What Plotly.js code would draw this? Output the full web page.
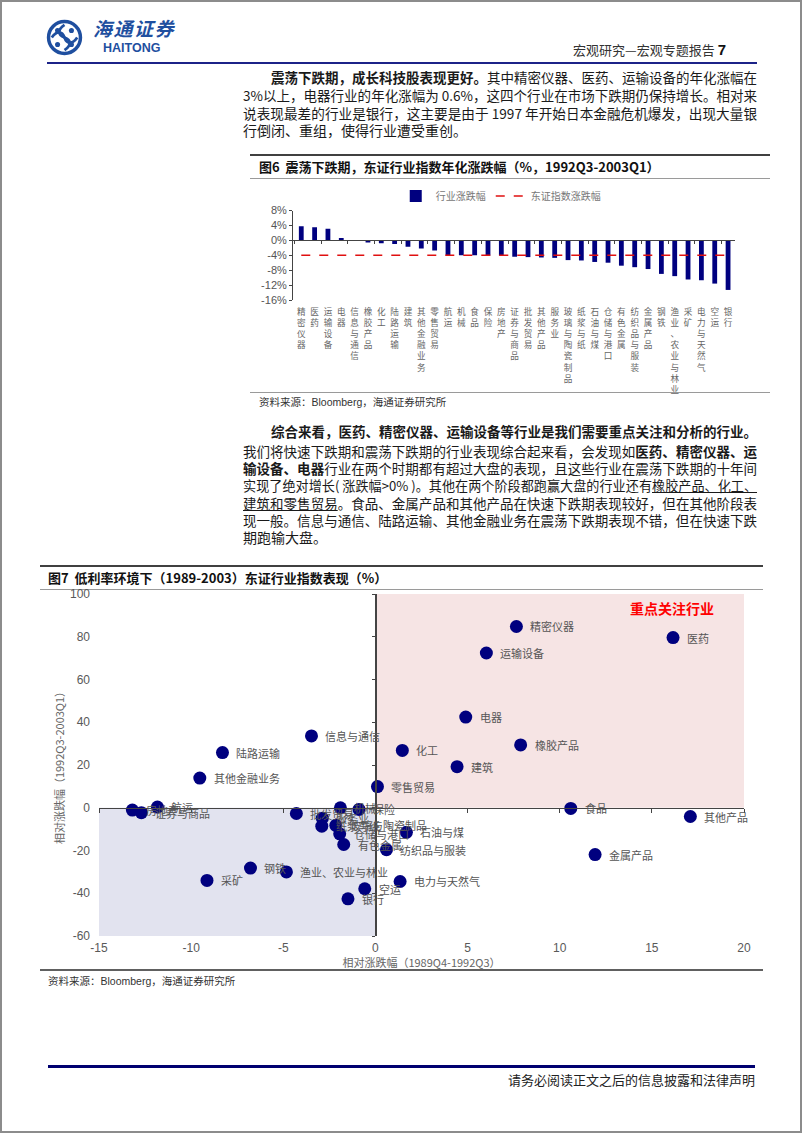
<!DOCTYPE html>
<html><head><meta charset="utf-8">
<script src="https://cdn.plot.ly/plotly-3.0.1.min.js"></script>
<style>
html,body{margin:0;padding:0;background:#fff;}
#page{position:relative;width:802px;height:1133px;overflow:hidden;font-family:"Noto Sans CJK SC","Noto Sans",sans-serif;color:#1a1a1a;}
#frame{position:absolute;left:0;top:0;width:802px;height:1133px;box-sizing:border-box;border:2px solid #8c8c8c;pointer-events:none;z-index:10;}
.abs{position:absolute;}
.ln{position:absolute;font-size:14px;height:18px;line-height:18px;text-align:justify;text-align-last:justify;white-space:nowrap;overflow:visible;}
.b{font-weight:bold;}
.u{text-decoration:underline;}
.hr{position:absolute;}
</style></head>
<body><div id="page">
<div id="frame"></div>
<!-- header -->
<svg class="abs" style="left:46px;top:19px" width="37" height="37" viewBox="0 0 32 32">
 <circle cx="16" cy="16" r="13.8" fill="none" stroke="#1f4f9f" stroke-width="3"/>
 <path d="M16 5 C10 9,10 14,16 16 C22 18,22 23,16 27" fill="none" stroke="#1f4f9f" stroke-width="2.4"/>
 <path d="M5 16 C9 10,14 10,16 16 C18 22,23 22,27 16" fill="none" stroke="#1f4f9f" stroke-width="2.4"/>
 <circle cx="10" cy="10" r="2.2" fill="#1f4f9f"/><circle cx="22" cy="22" r="2.2" fill="#1f4f9f"/>
 <circle cx="22" cy="10" r="2.2" fill="#1f4f9f"/><circle cx="10" cy="22" r="2.2" fill="#1f4f9f"/>
</svg>
<div class="abs" style="left:93px;top:17px;font-size:19px;font-weight:bold;font-style:italic;color:#1f4f9f;letter-spacing:1.5px;line-height:22px;">海通证券</div>
<div class="abs" style="left:103px;top:41px;font-family:'Liberation Sans',Arial,sans-serif;font-size:12.5px;font-weight:bold;color:#1f4f9f;line-height:14px;">HAITONG</div>
<div class="abs" style="right:76px;top:41px;font-size:13px;color:#333;line-height:18px;">宏观研究—宏观专题报告 <span style="font-family:'Liberation Sans',Arial;font-weight:bold;font-size:15px;color:#111;">7</span></div>
<div class="hr" style="left:47px;top:62px;width:710px;height:2px;background:#1c2388;"></div>

<!-- paragraph 1 -->
<div class="ln fit" style="left:271px;top:68px;width:486px;"><span class="b">震荡下跌期，成长科技股表现更好。</span>其中精密仪器、医药、运输设备的年化涨幅在</div>
<div class="ln fit" style="left:243px;top:86px;width:514px;">3%以上，电器行业的年化涨幅为 0.6%，这四个行业在市场下跌期仍保持增长。相对来</div>
<div class="ln fit" style="left:243px;top:104px;width:514px;">说表现最差的行业是银行，这主要是由于 1997 年开始日本金融危机爆发，出现大量银</div>
<div class="ln" style="left:243px;top:121px;text-align:left;text-align-last:left;">行倒闭、重组，使得行业遭受重创。</div>

<!-- chart 6 header -->
<div class="hr" style="left:250px;top:154px;width:520px;height:2px;background:#404040;"></div>
<div class="abs" style="left:259px;top:157px;font-size:13px;font-weight:bold;line-height:19px;color:#111;">图6&nbsp; 震荡下跌期，东证行业指数年化涨跌幅（%，1992Q3-2003Q1）</div>
<div class="hr" style="left:250px;top:178px;width:520px;height:1px;background:#9a9a9a;"></div>
<div id="c6" class="abs" style="left:250px;top:180px;width:520px;height:214px;"></div>
<div class="hr" style="left:250px;top:392px;width:520px;height:1px;background:#9a9a9a;"></div>
<div class="abs" style="left:259px;top:394px;font-size:10.5px;line-height:16px;color:#333;">资料来源：<span style="font-family:'Liberation Sans',Arial;">Bloomberg</span>，海通证券研究所</div>

<!-- paragraph 2 -->
<div class="ln b fit" style="left:271px;top:422px;width:486px;">综合来看，医药、精密仪器、运输设备等行业是我们需要重点关注和分析的行业。</div>
<div class="ln fit" style="left:243px;top:442px;width:514px;">我们将快速下跌期和震荡下跌期的行业表现综合起来看，会发现如<span class="b">医药、精密仪器、运</span></div>
<div class="ln fit" style="left:243px;top:459px;width:514px;"><span class="b">输设备、电器</span>行业在两个时期都有超过大盘的表现，且这些行业在震荡下跌期的十年间</div>
<div class="ln fit" style="left:243px;top:477px;width:514px;">实现了绝对增长( 涨跌幅&gt;0% )。其他在两个阶段都跑赢大盘的行业还有<span class="u">橡胶产品、化工、</span></div>
<div class="ln fit" style="left:243px;top:494px;width:514px;"><span class="u">建筑和零售贸易</span>。食品、金属产品和其他产品在快速下跌期表现较好，但在其他阶段表</div>
<div class="ln fit" style="left:243px;top:511px;width:514px;">现一般。信息与通信、陆路运输、其他金融业务在震荡下跌期表现不错，但在快速下跌</div>
<div class="ln" style="left:243px;top:528px;text-align:left;text-align-last:left;">期跑输大盘。</div>

<!-- chart 7 header -->
<div class="hr" style="left:40px;top:565px;width:723px;height:2px;background:#404040;"></div>
<div class="abs" style="left:48px;top:568px;font-size:13px;font-weight:bold;line-height:19px;color:#111;">图7&nbsp; 低利率环境下（1989-2003）东证行业指数表现（%）</div>
<div class="hr" style="left:40px;top:589px;width:723px;height:1px;background:#9a9a9a;"></div>
<div id="c7" class="abs" style="left:40px;top:578px;width:723px;height:392px;"></div>
<div class="hr" style="left:40px;top:969px;width:723px;height:2px;background:#606060;"></div>
<div class="abs" style="left:48px;top:973px;font-size:10.5px;line-height:16px;color:#333;">资料来源：<span style="font-family:'Liberation Sans',Arial;">Bloomberg</span>，海通证券研究所</div>

<!-- footer -->
<div class="hr" style="left:48px;top:1065px;width:707px;height:3px;background:#000070;"></div>
<div class="abs" style="right:47px;top:1071px;font-size:13px;line-height:18px;color:#222;">请务必阅读正文之后的信息披露和法律声明</div>
</div>

<script>
// shrink any justified text line that would overflow its box
document.querySelectorAll('.ln.fit').forEach(el => {
  let fs = 14;
  while (el.scrollWidth > el.clientWidth + 0.5 && fs > 11) { fs -= 0.1; el.style.fontSize = fs + 'px'; }
});

// ---------- Figure 6 data ----------
const cats6 = ['精密仪器','医药','运输设备','电器','信息与通信','橡胶产品','化工','陆路运输','建筑','其他金融业务','零售贸易','航运','机械','食品','保险','房地产','证券与商品','批发贸易','其他产品','服务业','玻璃与陶瓷制品','纸浆与纸','石油与煤','仓储与港口','有色金属','纺织品与服装','金属产品','钢铁','渔业、农业与林业','采矿','电力与天然气','空运','银行'];
const vals6 = [3.8,3.5,3.1,0.6,-0.1,-0.6,-0.8,-1.0,-1.7,-2.2,-2.7,-4.0,-4.0,-4.0,-4.1,-4.1,-4.4,-4.5,-4.6,-4.7,-5.3,-5.4,-5.8,-6.0,-6.8,-7.2,-7.7,-9.0,-9.6,-10.5,-10.7,-11.6,-13.3];
const indexValue6 = -4.0;
const yTicks6 = [8,4,0,-4,-8,-12,-16];
const yTickText6 = ['8%','4%','0%','-4%','-8%','-12%','-16%'];
const seriesNames6 = ['行业涨跌幅','东证指数涨跌幅'];

// ---------- Figure 7 data ----------
const names7 = ['精密仪器','医药','运输设备','电器','橡胶产品','化工','建筑','零售贸易','食品','其他产品','金属产品','石油与煤','纺织品与服装','电力与天然气','信息与通信','陆路运输','其他金融业务','采矿','钢铁','渔业、农业与林业','银行','空运','房地产','证券与商品','航运','批发贸易','服务业','纸浆与纸','机械','保险','玻璃与陶瓷制品','仓储与港口','有色金属'];
const relFast7 = [7.65,16.15,6.02,4.90,7.88,1.46,4.43,0.11,10.6,17.09,11.92,1.68,0.60,1.34,-3.47,-8.30,-9.53,-9.14,-6.78,-4.83,-1.49,-0.58,-13.19,-12.70,-11.83,-4.29,-2.88,-2.91,-1.90,-0.89,-2.15,-1.94,-1.72];
const relSlow7 = [84.8,79.6,72.4,42.4,29.4,26.8,19.2,9.9,-0.3,-4.1,-21.9,-11.5,-19.6,-34.5,33.6,25.8,13.9,-34.0,-28.2,-30.0,-42.6,-37.9,-1.1,-2.3,0.3,-2.7,-4.9,-8.6,0.0,-0.8,-8.2,-12.2,-17.2];
const xTicks7 = [-15,-10,-5,0,5,10,15,20];
const xTickText7 = ['-15','-10','-5','0','5','10','15','20'];
const yTicks7 = [-60,-40,-20,0,20,40,60,80,100];
const yTickText7 = ['-60','-40','-20','0','20','40','60','80','100'];
const focusLabel7 = '重点关注行业';

const CJK = '"Noto Sans CJK SC", sans-serif';
const NUM = '"Liberation Sans", Arial, sans-serif';
const vert = s => s.split('').join('<br>');

// ---------- Figure 6 ----------
const xr6 = [-0.62, 32.52];
Plotly.newPlot('c6', [
  {type:'bar', x:cats6, y:vals6, name:seriesNames6[0], marker:{color:'#00007f'}, xaxis:'x', yaxis:'y'},
  {type:'scatter', mode:'lines', x:[cats6[0], cats6[cats6.length-1]], y:[indexValue6, indexValue6],
   name:seriesNames6[1], line:{color:'#e01010', dash:'dash', width:1.5}, xaxis:'x2', yaxis:'y'}
], {
  width:520, height:214, margin:{l:43, r:35, t:28, b:94},
  paper_bgcolor:'rgba(0,0,0,0)', plot_bgcolor:'rgba(0,0,0,0)',
  bargap:0.64, showlegend:true,
  legend:{orientation:'h', x:0.47, xanchor:'center', yref:'container', y:1-16/214, yanchor:'middle',
          font:{size:10, color:'#777', family:CJK}, traceorder:'normal', itemwidth:30},
  xaxis:{type:'category', categoryorder:'array', categoryarray:cats6, range:xr6,
         tickvals:cats6, ticktext:cats6.map(vert), tickangle:0, ticks:'', showline:false,
         showgrid:false, zeroline:false, tickfont:{size:8.6, color:'#666', family:CJK}, ticklabelstandoff:5,
         automargin:false},
  xaxis2:{type:'category', overlaying:'x', anchor:'free', position:16/24, categoryorder:'array',
          categoryarray:cats6, range:xr6, showline:true, linecolor:'#444', linewidth:1,
          ticks:'outside', ticklen:3, tickcolor:'#444', tickson:'boundaries', showticklabels:false,
          showgrid:false, zeroline:false},
  yaxis:{range:[-16,8], tickvals:yTicks6, ticktext:yTickText6, showline:true, linecolor:'#444', linewidth:1,
         ticks:'outside', ticklen:3, tickcolor:'#444', showgrid:false, zeroline:false,
         tickfont:{size:11, color:'#555', family:NUM}, automargin:false}
}, {staticPlot:true, displayModeBar:false});

// ---------- Figure 7 ----------
const labelAnn = names7.map((n,i) => ({x:relFast7[i], y:relSlow7[i], xref:'x', yref:'y', text:n,
  showarrow:false, xanchor:'left', yanchor:'middle', xshift:12, font:{size:11, color:'#555', family:CJK}}));
labelAnn.push({x:16.1, y:93.5, xref:'x', yref:'y', text:'<b>'+focusLabel7+'</b>', showarrow:false,
  xanchor:'center', yanchor:'middle', font:{size:14, color:'#ff0000', family:CJK}});

Plotly.newPlot('c7', [
  {type:'scatter', mode:'markers', x:relFast7, y:relSlow7, text:names7,
   marker:{size:13, color:'#00007f'}, showlegend:false, xaxis:'x', yaxis:'y'},
  {type:'scatter', mode:'markers', x:[], y:[], xaxis:'x2', yaxis:'y2', showlegend:false}
], {
  width:723, height:392, margin:{l:59, r:19, t:16, b:34},
  paper_bgcolor:'rgba(0,0,0,0)', plot_bgcolor:'rgba(0,0,0,0)', showlegend:false,
  xaxis:{range:[-15,20], tickvals:xTicks7, ticktext:xTickText7, ticks:'', showline:false, showgrid:false,
         zeroline:false, tickfont:{size:12, color:'#595959', family:NUM}, ticklabelstandoff:3,
         title:{text:'相对涨跌幅（1989Q4-1992Q3）', font:{size:11, color:'#666', family:CJK}, standoff:1}},
  yaxis:{range:[-60,100], tickvals:yTicks7, ticktext:yTickText7, ticks:'', showline:false, showgrid:false,
         zeroline:false, tickfont:{size:12, color:'#595959', family:NUM}, ticklabelstandoff:8,
         ticklabeloverflow:'allow',
         title:{text:'相对涨跌幅（1992Q3-2003Q1）', font:{size:11, color:'#666', family:CJK}, standoff:3}},
  xaxis2:{overlaying:'x', anchor:'free', position:60/160, range:[-15,20], tickvals:xTicks7,
          showline:true, linecolor:'#444', linewidth:1.5, ticks:'outside', ticklen:4, tickcolor:'#444',
          showticklabels:false, showgrid:false, zeroline:false},
  yaxis2:{overlaying:'y', anchor:'free', position:15/35, side:'left', range:[-60,100], tickvals:yTicks7,
          showline:true, linecolor:'#444', linewidth:1.5, ticks:'outside', ticklen:3, tickcolor:'#444',
          showticklabels:false, showgrid:false, zeroline:false},
  shapes:[
    {type:'rect', xref:'x', yref:'y', x0:0, x1:20, y0:0, y1:100, fillcolor:'#f6e4e4', line:{width:0}, layer:'below'},
    {type:'rect', xref:'x', yref:'y', x0:-15, x1:0, y0:-60, y1:0, fillcolor:'#e2e3ef', line:{width:0}, layer:'below'}
  ],
  annotations:labelAnn
}, {staticPlot:true, displayModeBar:false});
</script>
</body></html>
